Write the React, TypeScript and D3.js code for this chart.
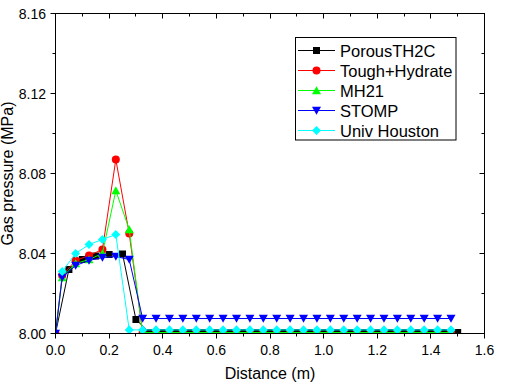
import React, { useEffect, useRef } from 'react';
import * as d3 from 'd3';

// x positions (m)
const xNodes = [
  0, 0.05, 0.1, 0.15, 0.2, 0.25, 0.3, 0.35, 0.4, 0.45, 0.5, 0.55, 0.6, 0.65, 0.7, 0.75,
  0.8, 0.85, 0.9, 0.95, 1.0, 1.05, 1.1, 1.15, 1.2, 1.25, 1.3, 1.35, 1.4, 1.45, 1.5,
];
const xCells = [
  0, 0.025, 0.075, 0.125, 0.175, 0.225, 0.275, 0.325, 0.375, 0.425, 0.475, 0.525, 0.575,
  0.625, 0.675, 0.725, 0.775, 0.825, 0.875, 0.925, 0.975, 1.025, 1.075, 1.125, 1.175, 1.225,
  1.275, 1.325, 1.375, 1.425, 1.475,
];
const xHouston = [
  0.025, 0.075, 0.125, 0.175, 0.225, 0.275, 0.325, 0.375, 0.425, 0.475, 0.525, 0.575,
  0.625, 0.675, 0.725, 0.775, 0.825, 0.875, 0.925, 0.975, 1.025, 1.075, 1.125, 1.175, 1.225,
  1.275, 1.325, 1.375, 1.425, 1.475,
];

// gas pressure (MPa)
const porousTH2C = [
  8.0, 8.032, 8.037, 8.0387, 8.0395, 8.0398, 8.007, 8.0005, 8.0005, 8.0005, 8.0005, 8.0005,
  8.0005, 8.0005, 8.0005, 8.0005, 8.0005, 8.0005, 8.0005, 8.0005, 8.0005, 8.0005, 8.0005,
  8.0005, 8.0005, 8.0005, 8.0005, 8.0005, 8.0005, 8.0005, 8.0005,
];
const toughHydrate = [
  8.0, 8.029, 8.0365, 8.039, 8.042, 8.087, 8.05, 8.0005, 8.0005, 8.0005, 8.0005, 8.0005,
  8.0005, 8.0005, 8.0005, 8.0005, 8.0005, 8.0005, 8.0005, 8.0005, 8.0005, 8.0005, 8.0005,
  8.0005, 8.0005, 8.0005, 8.0005, 8.0005, 8.0005, 8.0005, 8.0005,
];
const mh21 = [
  8.0, 8.028, 8.035, 8.037, 8.04, 8.0715, 8.052, 8.0005, 8.0005, 8.0005, 8.0005, 8.0005,
  8.0005, 8.0005, 8.0005, 8.0005, 8.0005, 8.0005, 8.0005, 8.0005, 8.0005, 8.0005, 8.0005,
  8.0005, 8.0005, 8.0005, 8.0005, 8.0005, 8.0005, 8.0005, 8.0005,
];
const stomp = [
  8.0, 8.028, 8.034, 8.0365, 8.038, 8.0385, 8.037, 8.0075, 8.0075, 8.0075, 8.0075, 8.0075,
  8.0075, 8.0075, 8.0075, 8.0075, 8.0075, 8.0075, 8.0075, 8.0075, 8.0075, 8.0075, 8.0075,
  8.0075, 8.0075, 8.0075, 8.0075, 8.0075, 8.0075, 8.0075, 8.0075,
];
const univHouston = [
  8.031, 8.04, 8.0445, 8.047, 8.0495, 8.0018, 8.0018, 8.0018, 8.0018, 8.0018, 8.0018, 8.0018,
  8.0018, 8.0018, 8.0018, 8.0018, 8.0018, 8.0018, 8.0018, 8.0018, 8.0018, 8.0018, 8.0018,
  8.0018, 8.0018, 8.0018, 8.0018, 8.0018, 8.0018, 8.0018,
];

const xTicks = [0, 0.2, 0.4, 0.6, 0.8, 1.0, 1.2, 1.4, 1.6];
const yTicks = [8.0, 8.04, 8.08, 8.12, 8.16];

type Shape = 'square' | 'circle' | 'up' | 'down' | 'diamond';

const series: { name: string; color: string; shape: Shape; xs: number[]; ys: number[] }[] = [
  { name: 'PorousTH2C', color: '#000000', shape: 'square', xs: xNodes, ys: porousTH2C },
  { name: 'Tough+Hydrate', color: '#ff0000', shape: 'circle', xs: xCells, ys: toughHydrate },
  { name: 'MH21', color: '#00ff00', shape: 'up', xs: xCells, ys: mh21 },
  { name: 'STOMP', color: '#0000ff', shape: 'down', xs: xCells, ys: stomp },
  { name: 'Univ Houston', color: '#00ffff', shape: 'diamond', xs: xHouston, ys: univHouston },
];

const markerPath = (shape: Shape) => {
  switch (shape) {
    case 'square':
      return 'M-3.5,-3.5H3.5V3.5H-3.5Z';
    case 'circle':
      return 'M-4,0A4,4 0 1,0 4,0A4,4 0 1,0 -4,0Z';
    case 'up':
      return 'M0,-4.2L4.5,3.8L-4.5,3.8Z';
    case 'down':
      return 'M0,4.2L4.5,-3.8L-4.5,-3.8Z';
    default:
      return 'M0,-4.6L4.5,0L0,4.6L-4.5,0Z';
  }
};

const FONT = 'Arial, "Liberation Sans", sans-serif';

const App: React.FC = () => {
  const ref = useRef<SVGSVGElement | null>(null);

  useEffect(() => {
    if (!ref.current) return;
    const svg = d3.select(ref.current);
    svg.selectAll('*').remove();

    const x = d3.scaleLinear().domain([0, 1.6]).range([55.5, 484.5]);
    const y = d3.scaleLinear().domain([8.0, 8.16]).range([333.5, 13.5]);
    const [x0, x1] = x.range();
    const [y0, y1] = y.range();

    svg
      .append('defs')
      .append('clipPath')
      .attr('id', 'plot-clip')
      .append('rect')
      .attr('x', x0)
      .attr('y', y1)
      .attr('width', x1 - x0)
      .attr('height', y0 - y1);

    // data
    const plot = svg.append('g').attr('clip-path', 'url(#plot-clip)');
    series.forEach((s) => {
      const pts = s.xs.map((v, i) => [v, s.ys[i]] as [number, number]);
      const line = d3
        .line<[number, number]>()
        .x((d) => x(d[0]))
        .y((d) => y(d[1]));
      plot
        .append('path')
        .attr('d', line(pts))
        .attr('fill', 'none')
        .attr('stroke', s.color)
        .attr('stroke-width', 1);
      plot
        .selectAll(null)
        .data(pts)
        .enter()
        .append('path')
        .attr('d', markerPath(s.shape))
        .attr('transform', (d) => `translate(${x(d[0])},${y(d[1])})`)
        .attr('fill', s.color);
    });

    // frame
    const axes = svg.append('g').attr('stroke', '#000').attr('stroke-width', 1);
    axes
      .append('rect')
      .attr('x', x0)
      .attr('y', y1)
      .attr('width', x1 - x0)
      .attr('height', y0 - y1)
      .attr('fill', 'none');

    const xMinor = d3.range(0.1, 1.6, 0.2);
    const yMinor = d3.range(8.02, 8.16, 0.04);

    // x ticks: bottom outward, top inward
    xTicks.forEach((t) => {
      const px = Math.round(x(t) - 0.5) + 0.5;
      axes.append('line').attr('x1', px).attr('x2', px).attr('y1', y0).attr('y2', y0 + 5);
      axes.append('line').attr('x1', px).attr('x2', px).attr('y1', y1).attr('y2', y1 + 5);
    });
    xMinor.forEach((t) => {
      const px = Math.round(x(t) - 0.5) + 0.5;
      axes.append('line').attr('x1', px).attr('x2', px).attr('y1', y0).attr('y2', y0 + 3);
      axes.append('line').attr('x1', px).attr('x2', px).attr('y1', y1).attr('y2', y1 + 3);
    });
    // y ticks: left outward, right inward
    yTicks.forEach((t) => {
      const py = Math.round(y(t) - 0.5) + 0.5;
      axes.append('line').attr('x1', x0 - 5).attr('x2', x0).attr('y1', py).attr('y2', py);
      axes.append('line').attr('x1', x1 - 5).attr('x2', x1).attr('y1', py).attr('y2', py);
    });
    yMinor.forEach((t) => {
      const py = Math.round(y(t) - 0.5) + 0.5;
      axes.append('line').attr('x1', x0 - 3).attr('x2', x0).attr('y1', py).attr('y2', py);
      axes.append('line').attr('x1', x1 - 3).attr('x2', x1).attr('y1', py).attr('y2', py);
    });

    // tick labels
    const labels = svg.append('g').attr('font-family', FONT).attr('font-size', 14).attr('fill', '#000');
    xTicks.forEach((t) => {
      labels
        .append('text')
        .attr('x', x(t))
        .attr('y', 355)
        .attr('text-anchor', 'middle')
        .text(d3.format('.1f')(t));
    });
    yTicks.forEach((t) => {
      labels
        .append('text')
        .attr('x', 46)
        .attr('y', y(t) + 5)
        .attr('text-anchor', 'end')
        .text(d3.format('.2f')(t));
    });

    // axis titles
    svg
      .append('text')
      .attr('x', (x0 + x1) / 2)
      .attr('y', 379)
      .attr('text-anchor', 'middle')
      .attr('font-family', FONT)
      .attr('font-size', 16)
      .text('Distance (m)');
    svg
      .append('text')
      .attr('transform', `translate(13,${(y0 + y1) / 2}) rotate(-90)`)
      .attr('text-anchor', 'middle')
      .attr('font-family', FONT)
      .attr('font-size', 16)
      .text('Gas pressure (MPa)');

    // legend
    const legend = svg.append('g');
    legend
      .append('rect')
      .attr('x', 295.5)
      .attr('y', 37.5)
      .attr('width', 160.5)
      .attr('height', 102.5)
      .attr('fill', '#fff')
      .attr('stroke', '#000');
    series.forEach((s, i) => {
      const ly = 50.5 + i * 20;
      legend
        .append('line')
        .attr('x1', 298)
        .attr('x2', 335)
        .attr('y1', ly)
        .attr('y2', ly)
        .attr('stroke', s.color);
      legend
        .append('path')
        .attr('d', markerPath(s.shape))
        .attr('transform', `translate(316.5,${ly})`)
        .attr('fill', s.color);
      legend
        .append('text')
        .attr('x', 340)
        .attr('y', ly + 6)
        .attr('font-family', FONT)
        .attr('font-size', 16.5)
        .text(s.name);
    });
  }, []);

  return (
    <svg
      ref={ref}
      width={506}
      height={392}
      style={{ position: 'absolute', left: 0, top: 0, background: '#fff' }}
    ></svg>
  );
};

export default App;
